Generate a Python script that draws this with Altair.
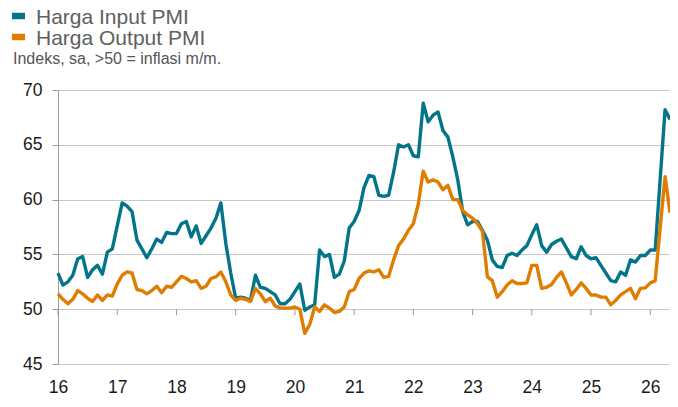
import altair as alt
import pandas as pd

START_YEAR = 2016
series_names = ["Harga Input PMI", "Harga Output PMI"]
series_colors = ["#03758A", "#E07C00"]
subtitle = "Indeks, sa, >50 = inflasi m/m."

# Monthly values, Jan 2016 onward
input_pmi = (
    [53.3, 52.2, 52.5, 53.1, 54.6, 54.8, 52.9, 53.6, 54.0, 53.2, 55.2, 55.5]  # 2016
    + [57.6, 59.7, 59.4, 58.9, 56.3, 55.5, 54.7, 55.5, 56.4, 56.1, 57.0, 56.9]  # 2017
    + [56.9, 57.8, 58.0, 56.6, 57.6, 56.0, 56.7, 57.4, 58.3, 59.7, 56.0, 53.3]  # 2018
    + [51.0, 51.1, 51.0, 50.8, 53.1, 52.0, 51.9, 51.6, 51.3, 50.5, 50.5, 50.9]  # 2019
    + [51.6, 52.3, 49.9, 50.2, 50.4, 55.4, 54.8, 55.0, 52.9, 53.2, 54.4, 57.4]  # 2020
    + [58.0, 59.0, 61.1, 62.2, 62.1, 60.4, 60.3, 60.4, 62.5, 65.0, 64.8, 65.0]  # 2021
    + [64.0, 63.9, 68.8, 67.1, 67.7, 68.0, 66.3, 65.7, 63.9, 61.8, 58.9, 57.7]  # 2022
    + [58.0, 58.0, 57.2, 56.3, 54.5, 53.9, 53.8, 54.9, 55.1, 54.9, 55.4, 55.8]  # 2023
    + [56.8, 57.7, 55.8, 55.2, 55.9, 56.2, 56.4, 55.6, 54.8, 54.6, 55.7, 54.9]  # 2024
    + [54.6, 54.7, 54.0, 53.3, 52.6, 52.5, 53.4, 53.1, 54.5, 54.3, 54.9, 54.9]  # 2025
    + [55.4, 55.4, 61.8, 68.2, 67.3]  # 2026
)
output_pmi = (
    [51.4, 50.9, 50.5, 50.9, 51.7, 51.4, 51.0, 50.7, 51.3, 50.8, 51.3, 51.2]  # 2016
    + [52.3, 53.1, 53.4, 53.3, 51.8, 51.7, 51.4, 51.7, 52.1, 51.5, 52.1, 52.0]  # 2017
    + [52.5, 53.0, 52.8, 52.5, 52.6, 51.9, 52.1, 52.8, 52.95, 53.4, 52.5, 51.3]  # 2018
    + [50.8, 51.0, 50.9, 50.7, 51.9, 51.4, 50.7, 51.0, 50.3, 50.1, 50.1, 50.1]  # 2019
    + [50.2, 50.0, 47.8, 48.6, 50.2, 49.8, 50.4, 50.1, 49.7, 49.8, 50.2, 51.6]  # 2020
    + [51.8, 52.8, 53.3, 53.5, 53.4, 53.6, 52.9, 53.0, 54.5, 55.8, 56.4, 57.2]  # 2021
    + [57.8, 59.6, 62.6, 61.6, 61.8, 61.6, 60.9, 61.3, 60.0, 60.0, 59.0, 58.6]  # 2022
    + [58.3, 57.8, 57.1, 52.95, 52.6, 51.1, 51.6, 52.2, 52.6, 52.35, 52.35, 52.4]  # 2023
    + [54.0, 54.0, 51.9, 52.0, 52.25, 52.9, 53.4, 52.4, 51.3, 51.8, 52.4, 51.9]  # 2024
    + [51.3, 51.3, 51.1, 51.1, 50.4, 50.8, 51.3, 51.6, 51.9, 50.95, 51.9, 51.95]  # 2025
    + [52.4, 52.6, 57.4, 62.1, 58.8]  # 2026
)

tick_years = list(range(2016, 2027))
y_ticks = [45, 50, 55, 60, 65, 70]

rows = []
for name, vals in zip(series_names, [input_pmi, output_pmi]):
    for i, v in enumerate(vals):
        rows.append({"t": START_YEAR + i / 12.0, "v": v, "s": name})
df = pd.DataFrame(rows)
ticks_df = pd.DataFrame({"t": tick_years})
sub_df = pd.DataFrame({"label": [subtitle]})
legend_df = pd.DataFrame({"s": series_names})

n_months = len(input_pmi) - 1
x_scale = alt.Scale(domain=[START_YEAR, START_YEAR + n_months / 12.0], nice=False, zero=False)
y_scale = alt.Scale(domain=[45, 70], nice=False, zero=False)
color_scale = alt.Scale(domain=series_names, range=series_colors)

FONT = "Liberation Sans"

lines = alt.Chart(df).mark_line(strokeWidth=3.4, strokeJoin="round").encode(
    x=alt.X(
        "t:Q",
        scale=x_scale,
        axis=alt.Axis(
            values=tick_years,
            labelExpr="substring(toString(datum.value), 2)",
            title=None,
            grid=False,
            domain=False,
            ticks=False,
            tickSize=0,
            labelPadding=14,
            labelFlush=False,
            labelFontSize=17.5,
            labelColor="#1a1a1a",
            labelFont=FONT,
        ),
    ),
    y=alt.Y(
        "v:Q",
        scale=y_scale,
        axis=alt.Axis(
            values=y_ticks,
            title=None,
            grid=True,
            gridColor="#c8c8c8",
            gridWidth=1,
            domainColor="#9a9a9a",
            tickColor="#9a9a9a",
            tickSize=6,
            labelPadding=10,
            labelFontSize=17.5,
            labelColor="#1a1a1a",
            labelFont=FONT,
        ),
    ),
    color=alt.Color("s:N", scale=color_scale, legend=None),
)

x_ticks = alt.Chart(ticks_df).mark_rule(color="#9a9a9a", strokeWidth=1).encode(
    x=alt.X("t:Q", scale=x_scale),
    y=alt.datum(50),
    y2=alt.datum(49.45),
)

sub_text = alt.Chart(sub_df).mark_text(
    align="left",
    baseline="alphabetic",
    fontSize=16,
    font=FONT,
    color="#555555",
).encode(
    text="label:N",
    x=alt.value(-45),
    y=alt.value(-26),
)

# Legend built from the series names (top-left, stacked)
legend_y = alt.Y(
    "s:N",
    scale=alt.Scale(type="point", domain=series_names, range=[-74, -53], padding=0),
    axis=None,
)
legend_sym = alt.Chart(legend_df).mark_rule(strokeWidth=6.5, strokeCap="butt").encode(
    x=alt.value(-46),
    x2=alt.value(-33),
    y=legend_y,
    color=alt.Color("s:N", scale=color_scale, legend=None),
)
legend_txt = alt.Chart(legend_df).mark_text(
    align="left",
    baseline="alphabetic",
    dy=7.6,
    fontSize=21,
    font=FONT,
    color="#606060",
).encode(
    x=alt.value(-22),
    y=legend_y,
    text="s:N",
)

main = alt.layer(x_ticks, lines, sub_text)
legend = alt.layer(legend_sym, legend_txt)

chart = alt.layer(main, legend).resolve_scale(y="independent").properties(
    width=612,
    height=274,
    autosize=alt.AutoSizeParams(type="none"),
    padding={"left": 50, "top": 82, "right": 0, "bottom": 35},
).configure_view(stroke=None)

chart.save("out.html", embed_options={"renderer": "svg", "actions": False})
